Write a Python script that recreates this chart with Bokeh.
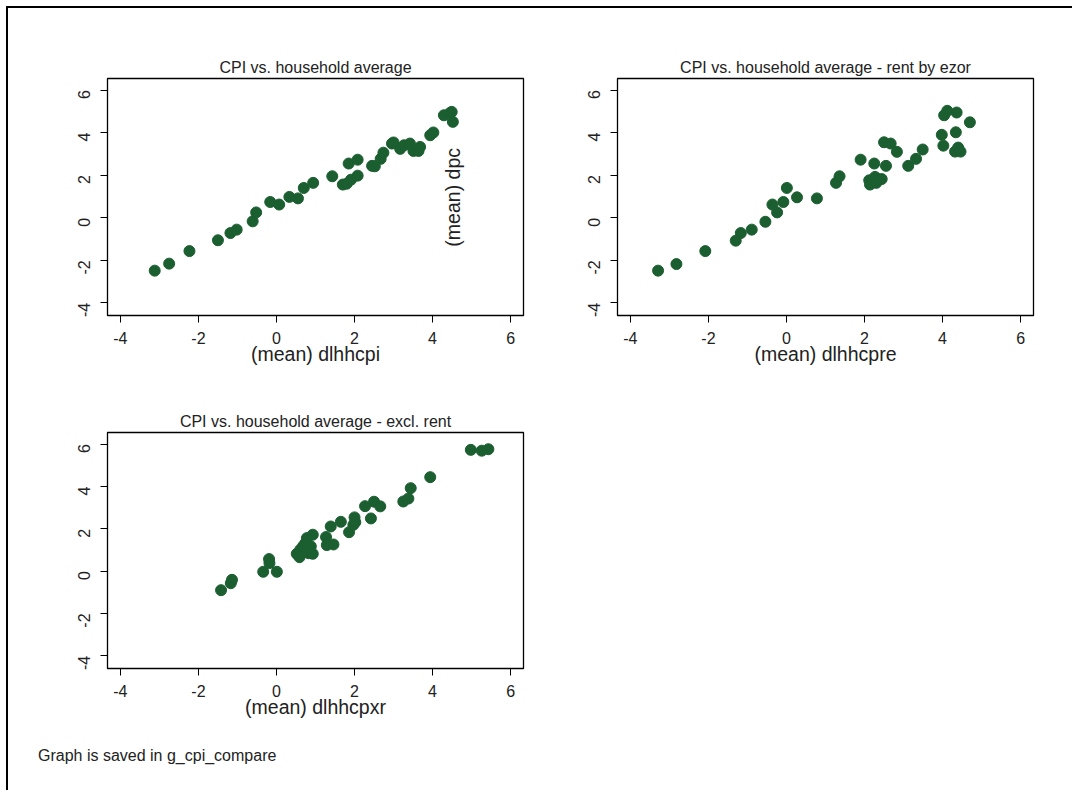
import math
from bokeh.plotting import figure
from bokeh.models import Label, FixedTicker, Div, ColumnDataSource
from bokeh.layouts import column, row
from bokeh.embed import file_html
from bokeh.resources import INLINE

# ---- data ----
titles = ["CPI vs. household average",
          "CPI vs. household average - rent by ezor",
          "CPI vs. household average - excl. rent"]
xlabels = ["(mean) dlhhcpi", "(mean) dlhhcpre", "(mean) dlhhcpxr"]
ylabel = "(mean) dpc"
note = "Graph is saved in g_cpi_compare"
ticks = [-4, -2, 0, 2, 4, 6]
tick_labels = ["-4", "-2", "0", "2", "4", "6"]

dlhhcpi = [-3.12, -2.75, -2.23, -1.50, -1.18, -1.02, -0.61, -0.52, -0.16, 0.07,
           0.33, 0.55, 0.70, 0.94, 1.43, 1.70, 1.80, 1.85, 1.91, 2.08,
           2.08, 2.45, 2.52, 2.67, 2.74, 2.96, 3.00, 3.17, 3.27, 3.42,
           3.51, 3.64, 3.68, 3.94, 4.02, 4.29, 4.45, 4.49, 4.52]
dpc1 = [-2.49, -2.16, -1.57, -1.06, -0.72, -0.56, -0.17, 0.25, 0.74, 0.62,
        0.98, 0.91, 1.40, 1.64, 1.95, 1.56, 1.60, 2.55, 1.79, 1.98,
        2.73, 2.44, 2.42, 2.77, 3.06, 3.49, 3.54, 3.24, 3.41, 3.49,
        3.14, 3.14, 3.33, 3.88, 4.01, 4.82, 4.93, 4.98, 4.51]

dlhhcpre = [-3.29, -2.82, -2.08, -1.30, -1.17, -0.89, -0.54, -0.36, -0.24, -0.08,
            0.01, 0.27, 0.78, 1.27, 1.36, 1.90, 2.12, 2.14, 2.25, 2.27,
            2.30, 2.36, 2.44, 2.50, 2.55, 2.67, 2.83, 3.12, 3.32, 3.49,
            3.98, 4.02, 4.04, 4.12, 4.34, 4.36, 4.32, 4.40, 4.46, 4.70]
dpc2 = [-2.49, -2.18, -1.57, -1.08, -0.72, -0.56, -0.19, 0.62, 0.25, 0.74,
        1.40, 0.96, 0.91, 1.64, 1.95, 2.73, 1.76, 1.56, 2.55, 1.92,
        1.64, 1.79, 1.82, 3.55, 2.44, 3.49, 3.10, 2.44, 2.77, 3.21,
        3.90, 3.39, 4.82, 5.03, 4.02, 4.95, 3.11, 3.30, 3.11, 4.49]

dlhhcpxr = [-1.42, -1.17, -1.14, -0.34, -0.19, -0.18, 0.01, 0.52, 0.59, 0.61,
            0.68, 0.74, 0.78, 0.82, 0.93, 0.93, 0.88, 1.27, 1.29, 1.39,
            1.46, 1.65, 1.86, 1.97, 2.00, 2.02, 2.27, 2.42, 2.50, 2.66,
            3.25, 3.38, 3.44, 3.94, 4.98, 5.26, 5.43]
dpc3 = [-0.90, -0.57, -0.41, -0.03, 0.57, 0.38, -0.03, 0.82, 0.66, 1.01,
        1.17, 1.32, 1.56, 0.85, 0.82, 1.72, 1.17, 1.61, 1.23, 2.11,
        1.26, 2.33, 1.84, 2.19, 2.54, 2.31, 3.07, 2.49, 3.28, 3.06,
        3.29, 3.43, 3.92, 4.44, 5.73, 5.69, 5.76]

FONT = "Liberation Sans"
GREEN = "#1b5e30"
TXT = "#222222"


def make_panel(xs, ys, title, xlabel, mb_left, mb_right, mb_top, mb_bottom, fh):
    p = figure(frame_width=416, frame_height=fh,
               x_range=(-4.33, 6.33), y_range=(-4.6, 6.55),
               min_border_left=mb_left, min_border_right=mb_right,
               min_border_top=mb_top, min_border_bottom=mb_bottom,
               output_backend="svg", toolbar_location=None,
               background_fill_color="white", border_fill_color="white")
    p.title.text = title
    p.title.align = "center"
    p.title.text_font = FONT
    p.title.text_font_size = "16px"
    p.title.text_font_style = "normal"
    p.title.text_color = TXT
    p.title.standoff = 5
    p.outline_line_color = "black"
    p.outline_line_width = 1.3
    p.grid.visible = False
    for ax in (p.xaxis[0], p.yaxis[0]):
        ax.ticker = FixedTicker(ticks=ticks)
        ax.major_label_overrides = {t: s for t, s in zip(ticks, tick_labels)}
        ax.minor_tick_line_color = None
        ax.major_tick_out = 7
        ax.major_tick_in = 0
        ax.major_tick_line_color = "black"
        ax.axis_line_color = "black"
        ax.major_label_text_font = FONT
        ax.major_label_text_font_size = "16px"
        ax.major_label_text_color = TXT
    p.xaxis[0].major_label_standoff = 9
    p.xaxis[0].axis_label = xlabel
    p.xaxis[0].axis_label_text_font = FONT
    p.xaxis[0].axis_label_text_font_size = "19.5px"
    p.xaxis[0].axis_label_text_font_style = "normal"
    p.xaxis[0].axis_label_text_color = TXT
    p.xaxis[0].axis_label_standoff = -4
    p.yaxis[0].major_label_orientation = math.pi / 2
    p.yaxis[0].major_label_standoff = 16
    src = ColumnDataSource(dict(x=xs, y=ys))
    p.scatter("x", "y", source=src, size=11, fill_color=GREEN, line_color=GREEN)
    return p


p1 = make_panel(dlhhcpi, dpc1, titles[0], xlabels[0], 99, 42, 70, 85, 237)
p1.add_layout(Label(x=4.52, y=0.96, text=ylabel, angle=math.pi / 2,
                    text_align="center", text_baseline="middle",
                    text_font=FONT, text_font_size="19.5px", text_color=TXT))
p2 = make_panel(dlhhcpre, dpc2, titles[1], xlabels[1], 52, 39, 70, 85, 237)
p3 = make_panel(dlhhcpxr, dpc3, titles[2], xlabels[2], 99, 42, 32, 57, 236)

note_div = Div(text=note, width=557, height=55,
               styles={"font-family": FONT, "font-size": "16px", "color": TXT,
                       "padding-left": "25px", "padding-top": "15px"})

layout = column(row(p1, p2), p3, note_div,
                styles={"border-left": "2px solid black", "border-top": "2px solid black",
                        "background-color": "white",
                        "margin-left": "6px", "margin-top": "6px"})

open("out.html", "w").write(file_html(layout, INLINE))
